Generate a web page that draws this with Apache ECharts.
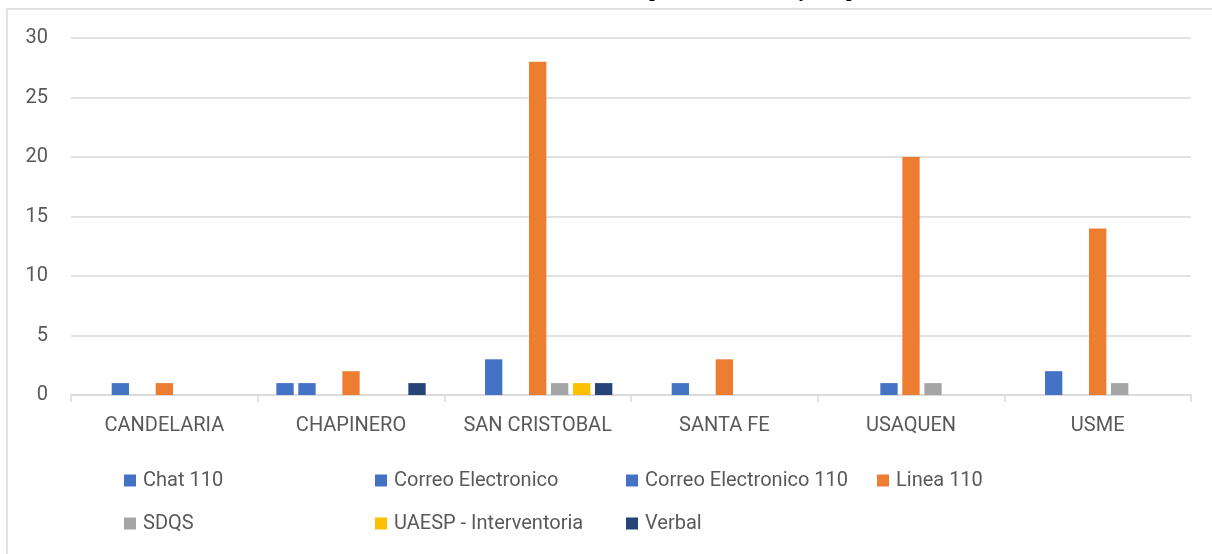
<!DOCTYPE html>
<html>
<head>
<meta charset="utf-8">
<script src="https://cdn.jsdelivr.net/npm/echarts@6/dist/echarts.min.js"></script>
<style>
html,body{margin:0;padding:0;background:#fff;}
#chart{width:1212px;height:554px;}
</style>
</head>
<body>
<div id="chart"></div>
<script>
const titleText = 'Gráfica a. Medios de radicación – QRS con porcentual anual y temporal 2021';
const categories = ['CANDELARIA', 'CHAPINERO', 'SAN CRISTOBAL', 'SANTA FE', 'USAQUEN', 'USME'];
const seriesNames = ['Chat 110', 'Correo Electronico', 'Correo Electronico 110', 'Linea 110', 'SDQS', 'UAESP - Interventoria', 'Verbal'];
const chat110 = [0, 1, 0, 0, 0, 0];
const correoElectronico = [1, 1, 3, 1, 0, 2];
const correoElectronico110 = [0, 0, 0, 0, 1, 0];
const linea110 = [1, 2, 28, 3, 20, 14];
const sdqs = [0, 0, 1, 0, 1, 1];
const uaesp = [0, 0, 1, 0, 0, 0];
const verbal = [0, 1, 1, 0, 0, 0];
const yTicks = [0, 5, 10, 15, 20, 25, 30];

const seriesData = [chat110, correoElectronico, correoElectronico110, linea110, sdqs, uaesp, verbal];
const colors = ['#4472C4', '#4472C4', '#4472C4', '#ED7D31', '#A5A5A5', '#FFC000', '#264478'];
const font = 'Roboto';

const chart = echarts.init(document.getElementById('chart'), null, {renderer: 'canvas'});
chart.setOption({
  animation: false,
  backgroundColor: '#fff',
  color: colors,
  title: {
    text: titleText,
    left: 'center',
    top: -19,
    padding: 0,
    textStyle: {fontFamily: '"Liberation Serif"', fontWeight: 'bold', fontSize: 20, color: '#000'}
  },
  graphic: [{
    type: 'rect', z: -10, silent: true,
    shape: {x: 7, y: 9, width: 1400, height: 800},
    style: {fill: 'none', stroke: '#d9d9d9', lineWidth: 1.5}
  }],
  grid: {left: 71, right: 21, top: 38, bottom: 159, containLabel: false},
  legend: {
    left: 124, top: 464, width: 1010, padding: 0,
    itemWidth: 12, itemHeight: 12, itemGap: 10,
    icon: 'rect',
    data: seriesNames,
    textStyle: {fontFamily: font, fontSize: 20, color: '#595959', width: 222, overflow: 'none', lineHeight: 33, padding: [0, 0, 0, 2]}
  },
  xAxis: {
    type: 'category',
    data: categories,
    axisLine: {lineStyle: {color: '#d9d9d9', width: 1.5}},
    axisTick: {show: true, interval: 0, length: 7, lineStyle: {color: '#d9d9d9', width: 1.5}},
    axisLabel: {interval: 0, fontFamily: font, fontSize: 20, color: '#595959', margin: 21}
  },
  yAxis: {
    type: 'value',
    min: 0, max: 30, interval: 5,
    axisLine: {show: false},
    axisTick: {show: false},
    splitLine: {lineStyle: {color: '#d9d9d9', width: 1.5}},
    axisLabel: {fontFamily: font, fontSize: 20, color: '#595959', margin: 23,
      formatter: v => yTicks.includes(v) ? String(v) : ''}
  },
  series: seriesNames.map((name, i) => ({
    name: name,
    type: 'bar',
    data: seriesData[i],
    barGap: '27%',
    barCategoryGap: '20%',
    itemStyle: {color: colors[i]}
  }))
});
</script>
</body>
</html>
